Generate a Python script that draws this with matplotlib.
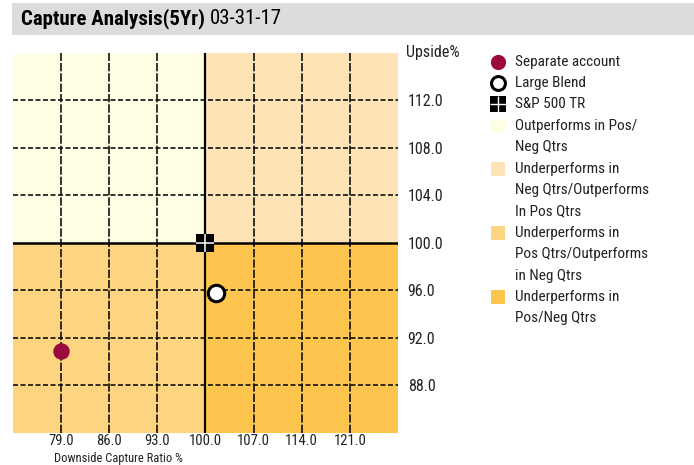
import matplotlib
matplotlib.use("Agg")
import matplotlib.pyplot as plt
from matplotlib.patches import Rectangle
from matplotlib import font_manager

names = {f.name for f in font_manager.fontManager.ttflist}
FAM = [n for n in ["Liberation Sans Narrow", "Roboto Condensed", "DejaVu Sans"] if n in names]
plt.rcParams['font.family'] = FAM

# ---- data ----
x_ticks = [79.0, 86.0, 93.0, 100.0, 107.0, 114.0, 121.0]
y_ticks = [88.0, 92.0, 96.0, 100.0, 104.0, 108.0, 112.0]
x_range = (72.0, 128.0)
y_range = (84.0, 116.0)
center = (100.0, 100.0)
series_names = ["Separate account", "Large Blend", "S&P 500 TR"]
downside = [79.0, 101.6, 100.0]
upside = [90.9, 95.8, 100.0]
quad_labels = ["Outperforms in Pos/\nNeg Qtrs",
               "Underperforms in\nNeg Qtrs/Outperforms\nIn Pos Qtrs",
               "Underperforms in\nPos Qtrs/Outperforms\nin Neg Qtrs",
               "Underperforms in\nPos/Neg Qtrs"]
quad_colors = ["#FEFEE4", "#FDE3B6", "#FDD580", "#FDC44E"]
title_bold = "Capture Analysis(5Yr)"
title_date = "03-31-17"
x_label = "Downside Capture Ratio %"
y_label = "Upside%"

W, H = 694, 465
fig = plt.figure(figsize=(W / 100, H / 100), dpi=100)

def fx(px): return px / W
def fy(py): return 1 - py / H

# title bar
fig.patches.append(Rectangle((fx(12), fy(35)), fx(694) - fx(12), fy(3) - fy(35),
                             transform=fig.transFigure, facecolor="#DCDCDC", edgecolor="none"))
t1 = fig.text(fx(21), fy(19), title_bold, fontsize=15, fontweight="bold", va="center", ha="left")
fig.canvas.draw()
bb = t1.get_window_extent()
fig.text((bb.x1 + 5) / W, fy(19), title_date, fontsize=15, va="center", ha="left")

ax = fig.add_axes([fx(13), fy(433), fx(398) - fx(13), fy(53) - fy(433)])
ax.set_xlim(*x_range)
ax.set_ylim(*y_range)

# quadrants
cx, cy = center
x0, x1 = x_range
y0, y1 = y_range
ax.add_patch(Rectangle((x0, cy), cx - x0, y1 - cy, facecolor=quad_colors[0], edgecolor="none", zorder=0))
ax.add_patch(Rectangle((cx, cy), x1 - cx, y1 - cy, facecolor=quad_colors[1], edgecolor="none", zorder=0))
ax.add_patch(Rectangle((x0, y0), cx - x0, cy - y0, facecolor=quad_colors[2], edgecolor="none", zorder=0))
ax.add_patch(Rectangle((cx, y0), x1 - cx, cy - y0, facecolor=quad_colors[3], edgecolor="none", zorder=0))

for xv in x_ticks:
    if xv == cx:
        continue
    ax.axvline(xv, color="#111111", lw=1.2, ls=(0, (5, 1.2)), zorder=1)
for yv in y_ticks:
    if yv == cy:
        continue
    ax.axhline(yv, color="#111111", lw=1.2, ls=(0, (3, 1.5)), zorder=1)
ax.axvline(cx, color="black", lw=1.6, zorder=1)
ax.axhline(cy, color="black", lw=1.8, zorder=1)

# points
ax.scatter([downside[0]], [upside[0]], s=140, color="#9B0A3C", zorder=5, linewidths=0)
ax.scatter([downside[1]], [upside[1]], s=140, facecolor="white", edgecolor="black", linewidths=2.2, zorder=5)
ax.scatter([downside[2]], [upside[2]], s=150, marker="s", color="black", zorder=5, linewidths=0)
ax.scatter([downside[2]], [upside[2]], s=150, marker="+", color="white", zorder=6, linewidths=1.1)

for s in ax.spines.values():
    s.set_visible(False)
ax.set_xticks(x_ticks)
ax.set_xticklabels([f"{v:.1f}" for v in x_ticks])
ax.set_yticks(y_ticks)
ax.set_yticklabels([f"{v:.1f}" for v in y_ticks])
ax.yaxis.tick_right()
ax.tick_params(axis="both", length=0, labelsize=11.5, colors="#222222")
ax.tick_params(axis="x", pad=0.5, labelsize=10.5)
ax.tick_params(axis="y", pad=7)

fig.text(fx(406), fy(52), y_label, fontsize=11.5, va="center", ha="left", color="#222222")
fig.text(fx(54), fy(465), x_label, fontsize=9, va="bottom", ha="left", color="#222222")

# legend (manual)
lx_m, lx_t = 498, 515
lg = fig.add_axes([0, 0, 1, 1], facecolor="none")
lg.set_xlim(0, W)
lg.set_ylim(H, 0)
lg.axis("off")
lg.scatter([lx_m], [62], s=120, color="#9B0A3C", linewidths=0)
lg.scatter([lx_m], [83], s=100, facecolor="white", edgecolor="black", linewidths=2.2)
lg.scatter([lx_m], [104], s=120, marker="s", color="black", linewidths=0)
lg.scatter([lx_m], [104], s=120, marker="+", color="white", linewidths=1.0)
fs = 11
lg.text(lx_t, 62, series_names[0], fontsize=fs, va="center", color="#222222")
lg.text(lx_t, 83, series_names[1], fontsize=fs, va="center", color="#222222")
lg.text(lx_t, 104, series_names[2], fontsize=fs, va="center", color="#222222")
row = 21.3
ystart = [126, 169, 233, 297]
for lab, col, ys in zip(quad_labels, quad_colors, ystart):
    lg.add_patch(Rectangle((lx_m - 7, ys - 7), 14, 14, facecolor=col, edgecolor="none"))
    for i, line in enumerate(lab.split("\n")):
        lg.text(lx_t, ys + i * row, line, fontsize=fs, va="center", color="#222222")

fig.savefig("out.png", dpi=100)
